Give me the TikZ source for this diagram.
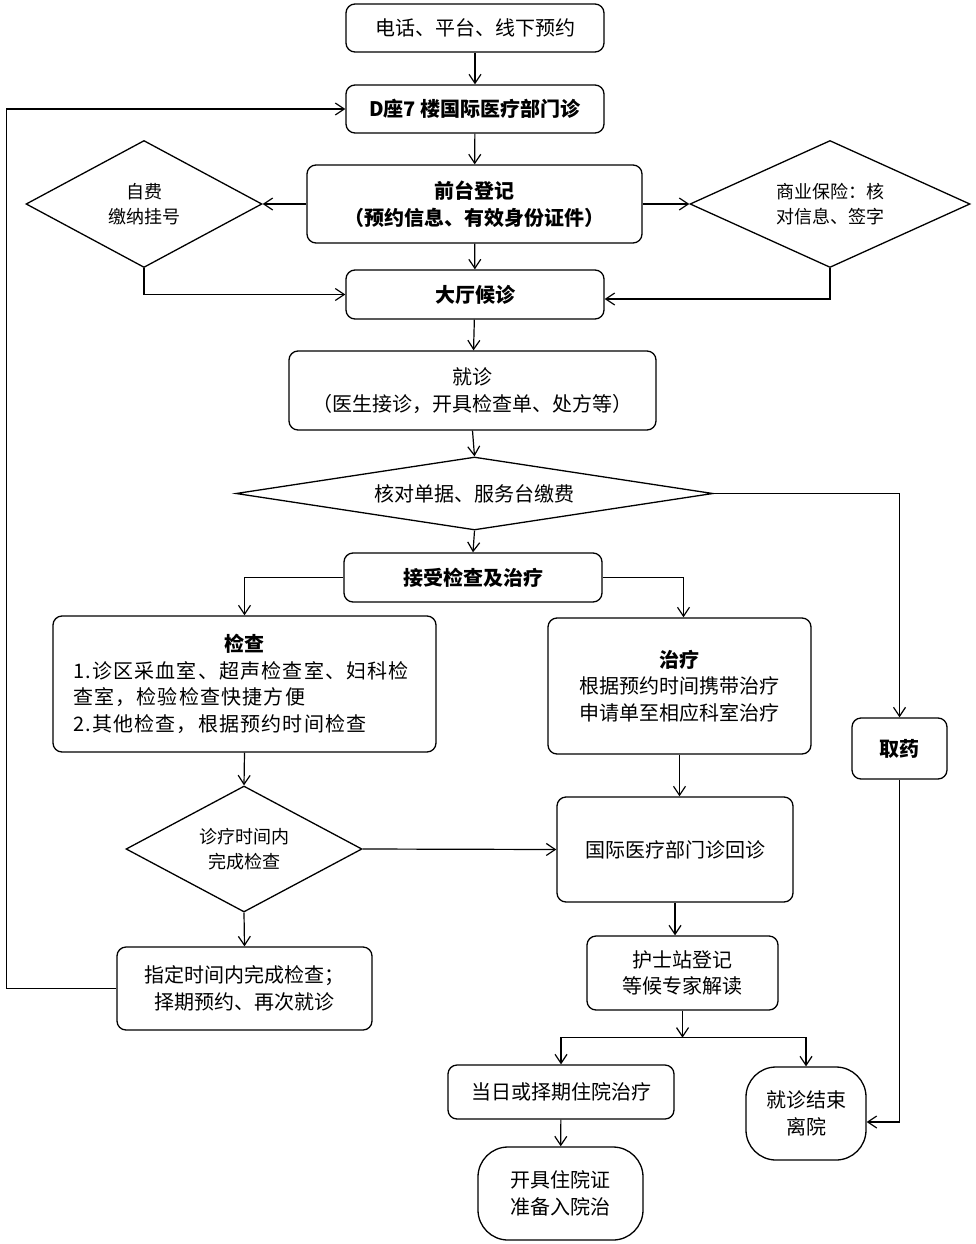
\documentclass[tikz,border=0pt]{standalone}
\usepackage{fontspec}
\setmainfont{Noto Sans CJK SC}
\newfontfamily\spacedfont[LetterSpace=6]{Noto Sans CJK SC}
\usetikzlibrary{arrows.meta, shapes.geometric}

\begin{document}
\begin{tikzpicture}[
    x = 1pt, y = -1pt,
    flow/.style = {line width=1.2pt, -{Straight Barb[length=9pt, width=12pt]}},
    box/.style = {draw, line width=1.3pt, rounded corners=9pt, align=center,
      inner sep=0pt, font=\fontsize{20}{26.5}\selectfont},
    bbox/.style = {box, font=\fontsize{20}{26.5}\selectfont\bfseries},
    term/.style = {box, rounded corners=30pt},
    decision/.style = {draw, diamond, line width=1.3pt, align=center,
      inner sep=0pt, font=\fontsize{18}{25}\selectfont}
    ]
    \useasboundingbox (0,0) rectangle (975,1244);
    % booking and registration
    \node[box, minimum width=258pt, minimum height=48pt] (phone) at (475,28) {电话、平台、线下预约};
    \node[bbox, minimum width=258pt, minimum height=48pt] (clinic) at (475,109) {D座7 楼国际医疗部门诊};
    \node[bbox, minimum width=335pt, minimum height=78pt] (reception) at (474.5,204) {前台登记\\（预约信息、有效身份证件）};
    \node[decision, aspect=1.86, minimum width=236pt, minimum height=127pt] (selfpay) at (144,204) {自费\\缴纳挂号};
    \node[decision, aspect=2.2, minimum width=280pt, minimum height=127pt] (insure) at (830,204) {商业保险：核\\对信息、签字};
    \node[bbox, minimum width=258pt, minimum height=49pt] (hall) at (475,294.5) {大厅候诊};
    \node[box, minimum width=367pt, minimum height=79pt] (visit) at (472.5,390.5) {就诊\\（医生接诊，开具检查单、处方等）};
    \node[decision, aspect=6.5, minimum width=477pt, minimum height=73pt,
      font=\fontsize{20}{26.5}\selectfont] (bill) at (474.5,493.5) {核对单据、服务台缴费};
    \node[bbox, minimum width=258pt, minimum height=49pt] (accept) at (473,577.5) {接受检查及治疗};
    % examination and treatment
    \node[box, minimum width=383pt, minimum height=136pt, text width=343pt, align=left] (exam) at (244.5,684)
      {\makebox[343pt]{\bfseries 检查}\\\spacedfont 1.诊区采血室、超声检查室、妇科检\\查室，检验检查快捷方便\\2.其他检查，根据预约时间检查};
    \node[box, minimum width=263pt, minimum height=136pt] (treat) at (679.5,686)
      {\textbf{治疗}\\根据预约时间携带治疗\\申请单至相应科室治疗};
    \node[bbox, minimum width=95pt, minimum height=61pt] (drug) at (899.5,748.5) {取药};
    \node[decision, aspect=1.87, minimum width=236pt, minimum height=126pt] (intime) at (244,849) {诊疗时间内\\完成检查};
    \node[box, minimum width=236pt, minimum height=105pt] (revisit) at (675,849.5) {国际医疗部门诊回诊};
    \node[box, minimum width=255pt, minimum height=83pt] (appoint) at (244.5,988.5) {指定时间内完成检查；\\择期预约、再次就诊};
    \node[box, minimum width=191pt, minimum height=74pt] (nurse) at (682.5,973) {护士站登记\\等候专家解读};
    % leaving
    \node[box, minimum width=226pt, minimum height=54pt] (inpatient) at (561,1092) {当日或择期住院治疗};
    \node[term, minimum width=165pt, minimum height=93pt] (certificate) at (560.5,1193.5) {开具住院证\\准备入院治};
    \node[term, minimum width=120pt, minimum height=93pt] (finish) at (806,1113.5) {就诊结束\\离院};

    \draw[flow] (phone) -- (clinic);
    \draw[flow] (clinic) -- (reception);
    \draw[flow] (reception.west) -- (selfpay.east);
    \draw[flow] (reception.east) -- (insure.west);
    \draw[flow] (reception) -- (hall);
    \draw[flow] (selfpay.south) |- (hall.west);
    \draw[flow] (insure.south) |- ([yshift=-4.5pt]hall.east);
    \draw[flow] (hall) -- (visit);
    \draw[flow] (visit.south) -- (bill.north);
    \draw[flow] (bill.south) -- (accept.north);
    \draw[flow] (bill.east) -| (drug.north);
    \draw[flow] (accept.west) -| (exam.north);
    \draw[flow] (accept.east) -| ([xshift=4pt]treat.north);
    \draw[flow] (exam.south) -- (intime.north);
    \draw[flow] (treat.south) -- (treat.south |- revisit.north);
    \draw[flow] (intime.east) -- (revisit.west);
    \draw[flow] (intime.south) -- (appoint.north);
    \draw[flow] (appoint.west) -- ++(-110,0) |- (clinic.west);
    \draw[flow] (revisit.south) -- (revisit.south |- nurse.north);
    \draw[flow] (nurse.south) -- ++(0,27) coordinate (split);
    \draw[flow] (split) -| (inpatient.north);
    \draw[flow] (split) -| (finish.north);
    \draw[flow] (inpatient) -- (certificate);
    \draw[flow] (drug.south) |- ([yshift=-8.5pt]finish.east);
\end{tikzpicture}
\end{document}
